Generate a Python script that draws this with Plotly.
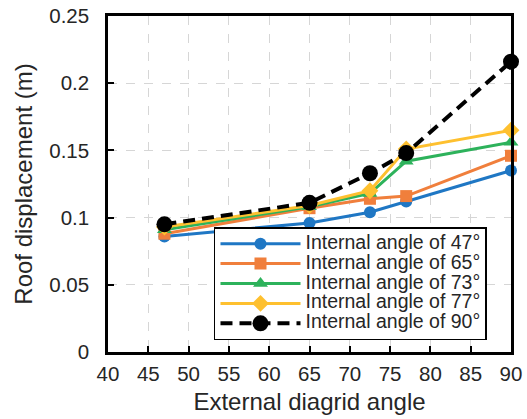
import plotly.graph_objects as go

external_angle = [47, 65, 72.5, 77, 90]
disp_47 = [0.086, 0.096, 0.104, 0.112, 0.135]
disp_65 = [0.088, 0.107, 0.114, 0.116, 0.146]
disp_73 = [0.091, 0.108, 0.118, 0.142, 0.156]
disp_77 = [0.093, 0.109, 0.120, 0.151, 0.165]
disp_90 = [0.095, 0.111, 0.133, 0.148, 0.216]
labels = ["Internal angle of 47°", "Internal angle of 65°", "Internal angle of 73°",
          "Internal angle of 77°", "Internal angle of 90°"]

series = [
    (labels[0], disp_47, "#1F77C4", "circle", 12, "solid", 3),
    (labels[1], disp_65, "#F07F3C", "square", 12, "solid", 3),
    (labels[2], disp_73, "#2DB25B", "triangle-up", 13, "solid", 3),
    (labels[3], disp_77, "#FEC02F", "diamond", 13, "solid", 3),
    (labels[4], disp_90, "#000000", "circle", 16, "12px,7px", 4),
]

fig = go.Figure()
for name, y, color, sym, ms, dash, lw in series:
    fig.add_trace(go.Scatter(
        x=external_angle, y=y,
        name="<span style='font-size:19.5px'>" + name + "</span>",
        mode="lines+markers",
        line=dict(color=color, width=lw, dash=dash),
        marker=dict(color=color, symbol=sym, size=ms),
        cliponaxis=False,
    ))

font = "Liberation Sans, Arial, sans-serif"
tc = "#262626"
fig.update_layout(
    width=527, height=419,
    margin=dict(l=108, r=16, t=16, b=67, autoexpand=False),
    paper_bgcolor="white", plot_bgcolor="white",
    font=dict(family=font, size=20, color=tc),
    showlegend=True,
    legend=dict(
        x=0.263, y=0.035, xanchor="left", yanchor="bottom",
        bgcolor="white", bordercolor="black", borderwidth=1.5,
        font=dict(family=font, size=13, color=tc),
        tracegroupgap=0, itemwidth=80,
    ),
    xaxis=dict(
        range=[40, 90], dtick=5, tick0=40, automargin=False,
        showgrid=True, gridcolor="#D6D6D6", griddash="dash", gridwidth=1.3,
        showline=True, linecolor="black", linewidth=2.5, mirror=True,
        ticks="inside", ticklen=6, tickcolor="black", tickwidth=2,
        zeroline=False, ticklabelstandoff=2,
        title=dict(text="External diagrid angle", font=dict(size=24, family=font, color=tc), standoff=9),
        tickfont=dict(size=20.5, color=tc),
    ),
    yaxis=dict(
        range=[0, 0.25], dtick=0.05, tick0=0, automargin=False,
        showgrid=True, gridcolor="#D6D6D6", griddash="dash", gridwidth=1.3,
        showline=True, linecolor="black", linewidth=2.5, mirror=True,
        ticks="inside", ticklen=6, tickcolor="black", tickwidth=2,
        zeroline=False, tickformat="~g", ticklabelstandoff=12,
        title=dict(text="Roof displacement (m)", font=dict(size=24, family=font, color=tc), standoff=10),
        tickfont=dict(size=20.5, color=tc),
    ),
)

fig.write_html("out.html")
